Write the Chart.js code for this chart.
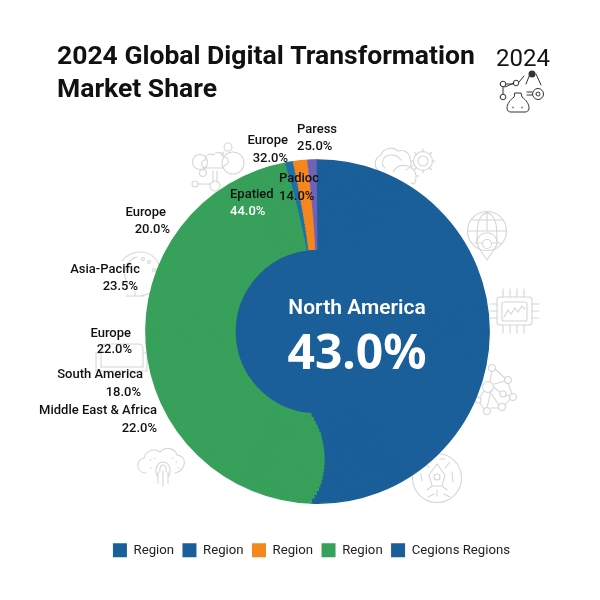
<!DOCTYPE html>
<html>
<head>
<meta charset="utf-8">
<style>html,body{margin:0;padding:0;background:#fff}canvas{display:block}</style>
<script src="https://cdn.jsdelivr.net/npm/chart.js@4"></script>
</head>
<body>
<canvas id="c" width="600" height="600"></canvas>
<script>
const titleLines = ["2024 Global Digital Transformation", "Market Share"];
const sideYear = "2024";
const centerName = "North America";
const centerValue = "43.0%";
const coreShare = [100];
// Shares read ring by ring, outermost first, because the blue/green edge bulges in the picture
const ringBlue   = [50.72,50.49,50.26,50.06,49.91,49.77,49.67,49.57,49.48,49.42,49.35,49.33,49.31,49.33,49.37,49.42,49.51,49.6,49.71,49.96,50.21,50.55,50.9,51.4];
const ringGreen  = [46.48,46.74,47.01,47.25,47.44,47.63,47.77,47.9,48.04,48.15,48.25,48.31,48.38,48.4,48.4,48.39,48.34,48.29,48.23,48.01,47.81,47.52,47.22,46.77];
const ringSliver = [.72,.71,.7,.68,.67,.65,.63,.62,.6,.58,.57,.55,.53,.52,.5,.48,.47,.45,.43,.42,.4,.37,.34,.3];
const ringOrange = [1.33,1.33,1.33,1.33,1.33,1.33,1.33,1.33,1.33,1.33,1.33,1.33,1.33,1.33,1.33,1.33,1.33,1.33,1.33,1.33,1.33,1.33,1.33,1.33];
const ringPurple = [.75,.73,.7,.68,.65,.62,.6,.58,.55,.52,.5,.48,.45,.42,.4,.38,.35,.33,.3,.28,.25,.23,.21,.2];
const sliceNames = ["North America","Epatied","Europe","Padioc","Paress"];
const legendNames = ["Region","Region","Region","Region","Cegions Regions"];

const BLUE="#1a5f99",GREEN="#37a05b",ORANGE="#f5871f",PURPLE="#6f62b8",SLIVER="#1f6fa8";
const legendColors=[BLUE,BLUE,ORANGE,GREEN,BLUE];
const sliceColors=[BLUE,GREEN,SLIVER,ORANGE,PURPLE];

const calloutText=[
 ["Europe","32.0%"],["Paress","25.0%"],["Padioc","14.0%"],["Epatied","44.0%"],
 ["Europe","20.0%"],["Asia-Pacific","23.5%"],["Europe","22.0%"],["South America","18.0%"],["Middle East & Africa","22.0%"]
];
const calloutPlace=[
 {x:288,y:144,y2:162,a:"right"},{x:297,y:133,y2:150,a:"left"},{x:279,y:182,y2:200,a:"left"},
 {x:230,y:198,y2:215,a:"left",c2:"#fff"},
 {x:170,y:216,y2:233,a:"right",x1:166},{x:140,y:273,y2:290,a:"right",x2:138},
 {x:131,y:337,y2:353,a:"right",x2:132},{x:143,y:378,y2:396,a:"right",x2:141},{x:157,y:414,y2:432,a:"right"}
];

function circ(x,y,r){return `M${x-r} ${y}a${r} ${r} 0 1 0 ${2*r} 0a${r} ${r} 0 1 0 ${-2*r} 0`;}
const cloudA="M206 168c-5 0-6-7-1-8c0-5 5-7 8-5c3-4 10-3 11 2c5 0 6 7 1 8c-1 1-2 3-3 3z";
const greyIcons=[
 cloudA,circ(200,162,7.5),circ(228,147,4),circ(233,163,11),circ(203,173,3.5),circ(195,184,3),circ(215,186,5),
 "M213 171V182M217 171V182M198 184H210M207 166L204 170M224 152L221 156",
 "M380 172c-7-5-6-14 1-17c2-7 12-9 17-4c6-2 12 2 12 8c3 5 0 9-4 11M385 168c-4-3-3-9 1-12c5-2 12-1 15 4",
 circ(423,161,9.5),circ(423,161,5),"M423 149v3M423 170v3M411 161h3M432 161h3M414.5 152.5l2 2M429.5 167.5l2 2M414.5 169.5l2-2M429.5 154.5l2-2",
 "M393 172c2-5 8-8 14-6c6 1 9 6 9 10c0 3 0 6-2 8l-3-1M416 176h3M411 168l2-3",
 circ(487,231,19.5),"M468 231H506M472 220H502M474 243H482M492 243H501M487 212V231M487 212c-10 5-10 14-10 31M487 212c10 5 10 14 10 31",
 "M487 260l-8-12c-5-7 0-15 8-15s13 8 8 15z",circ(487,244,4.5),
 "M500 297h29q3 0 3 3v22q0 3-3 3h-29q-3 0-3-3v-22q0-3 3-3z","M504 302h21q2 0 2 2v15q0 2-2 2h-21q-2 0-2-2v-15q0-2 2-2z",
 "M504 317l4-7l3 4l4-6l3 4l4-6l3 3",
 "M503 289v8M510 289v8M517 289v8M524 289v8M503 325v8M510 325v8M517 325v8M524 325v8M490 304h7M490 311h7M490 318h7M532 304h7M532 311h7M532 318h7",
 circ(492,368,3.5),circ(508,380,3.5),circ(513,397,3.5),circ(502,407,3.5),circ(487,411,3.5),circ(478,400,3),circ(488,387,5.5),circ(503,394,3),
 "M492 371L490 382M495 369L505 378M508 383L512 394M510 399L505 405M498 408H491M484 409L480 403M479 398L484 391M493 387L500 392M506 395L510 396M490 392L499 405M491 390L487 408M494 384L505 381",
 circ(437,478,24.5),"M437 464l8 11l-3 11h-10l-3-11zM432 486l-5 4M442 486l5 4M437 490v6",circ(437,477,3),
 "M424 462l5 5M450 462l-5 6M452 472l1 10M421 474l1 7M428 497l6-3M444 494l6 3M440 459h5",
 "M146 473c-10 0-11-13-2-15c2-8 11-10 16-6c5-6 15-4 17 3c7 1 9 7 6 12c-1 3-4 5-8 6",
 "M157 476c-3-8 1-14 6-14s9 6 6 14M160 472c-1-4 1-7 3-7s4 3 3 7M158 472V483M163 471V486M168 472V483M150 460h1M154 458h1M172 458h1M176 462h1M150 468h1M178 468h1",
 "M122 261c4-6 12-9 18-9c9 0 16 5 19 13M159 283c-3 7-10 12-19 13c-5 0-8 0-11 0M126 296h18M135 296v-5M128 284c-7-10-2-24 9-27",
 circ(149,262,1.5),circ(154,270,1.5),circ(143,259,1.5),
 "M96 353h5v14h42v-14h4v18h-51zM101 353v-4q0-5 5-5h32q5 0 5 5v4M108 371v3M136 371v3",
];
const darkIcons=[
 circ(503,84,2.8),circ(503,97,2.8),circ(516,83,2.8),circ(538,94,5.5),circ(538,94,2),
 "M506 84H513M503 87V94M519 82L524 76M505 87L514 83M526 84L530 74M536 74L541 85",
 "M515 93h6l1 4c4 3 7 7 7 11c0 3-2 4-4 4h-14c-2 0-4-1-4-4c0-4 3-8 7-11z","M513 107v1M522 107v1M527 92h5M527 95h5"
];

const paintBackdrop={id:"backdrop",beforeDraw(chart){
 const x=chart.ctx;x.save();x.lineWidth=1.1;x.strokeStyle="#d6d6d6";x.lineCap="round";
 greyIcons.forEach(p=>x.stroke(new Path2D(p)));
 x.strokeStyle="#333";x.lineWidth=1;darkIcons.forEach(p=>x.stroke(new Path2D(p)));
 x.fillStyle="#333";x.beginPath();x.arc(532,74,3.5,0,7);x.fill();
 x.fillStyle="#141414";x.font='400 24px "Roboto"';x.textAlign="left";x.textBaseline="alphabetic";x.fillText(sideYear,496,66);
 x.restore();
}};
const shiftLegend={id:"shiftLegend",afterLayout(chart){
 const l=chart.legend;l.left-=6;l.right-=6;l.top+=31;l.bottom+=31;
}};
const paintText={id:"paintText",afterDatasetsDraw(chart){
 const x=chart.ctx;x.save();x.textBaseline="alphabetic";
 x.font='500 13px "Roboto"';
 calloutText.forEach((t,i)=>{const p=calloutPlace[i];x.textAlign=p.a;
  x.fillStyle="#111";x.fillText(t[0],p.x1??p.x,p.y);
  x.fillStyle=p.c2||"#111";x.fillText(t[1],p.x2??p.x,p.y2);});
 x.fillStyle="#fff";x.textAlign="center";
 x.font='600 21px "Roboto"';x.fillText(centerName,357,314);
 x.font='700 48px "Noto Sans"';x.fillText(centerValue,357,369);
 x.restore();
}};

const datasets=ringBlue.map((b,i)=>({
  data:[b,ringGreen[i],ringSliver[i],ringOrange[i],ringPurple[i]],
  backgroundColor:sliceColors,borderColor:sliceColors,borderWidth:1.5,weight:3.71
}));
datasets.push({data:coreShare,backgroundColor:[BLUE],borderColor:[BLUE],borderWidth:1.5,weight:82.5});

new Chart(document.getElementById("c"),{
 type:"doughnut",
 data:{labels:sliceNames,datasets},
 plugins:[paintBackdrop,shiftLegend,paintText],
 options:{
  responsive:false,animation:false,cutout:0,rotation:-0.5,
  layout:{padding:{left:57,right:22,top:0,bottom:63.65}},
  plugins:{
   tooltip:{enabled:false},
   title:{display:true,text:titleLines,align:"start",color:"#111",
    font:{family:"Roboto",size:26.5,weight:"700",lineHeight:1.245},padding:{top:41,bottom:52.25}},
   legend:{display:true,position:"bottom",
    labels:{boxWidth:14,boxHeight:14,padding:8.4,color:"#222",font:{family:"Roboto",size:13.2},
     generateLabels:()=>legendNames.map((n,i)=>({text:n,fillStyle:legendColors[i],strokeStyle:legendColors[i],lineWidth:0,fontColor:"#222",hidden:false}))}}
  }
 }
});
</script>
</body>
</html>
